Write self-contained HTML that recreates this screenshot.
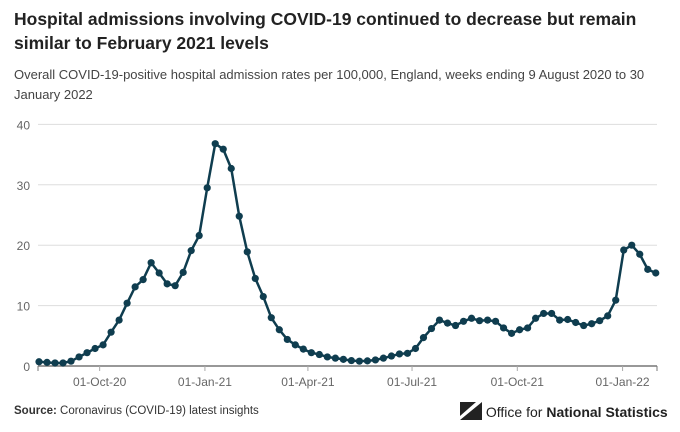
<!DOCTYPE html>
<html><head><meta charset="utf-8"><style>
body{margin:0;width:680px;height:432px;background:#fff;font-family:"Liberation Sans",sans-serif;overflow:hidden;position:relative}
.t{position:absolute;left:14px;top:7px;font-size:17.5px;font-weight:bold;color:#222;line-height:24px;width:660px}
.s{position:absolute;left:14px;top:65px;font-size:13px;color:#444;line-height:20px;width:660px}
.src{position:absolute;left:14px;top:405px;font-size:11.5px;color:#333}
.logo{position:absolute;left:460px;top:402px;font-size:14px;color:#222}
</style></head><body>
<div class="t">Hospital admissions involving COVID-19 continued to decrease but remain similar to February 2021 levels</div>
<div class="s">Overall COVID-19-positive hospital admission rates per 100,000, England, weeks ending 9 August 2020 to 30 January 2022</div>
<svg id="c" width="680" height="432" style="position:absolute;left:0;top:0"></svg>
<div class="src"><b>Source:</b> Coronavirus (COVID-19) latest insights</div>
<div class="logo"><svg width="22" height="18" style="vertical-align:-3px"><polygon points="0,18 22,0 22,18" fill="#222"/><polygon points="0,14 16,0 0,0" fill="#222"/></svg> Office for <b>National Statistics</b></div>
<script>
const values=[0.7,0.6,0.5,0.5,0.8,1.5,2.2,2.9,3.5,5.6,7.6,10.4,13.1,14.3,17.1,15.4,13.6,13.3,15.5,19.1,21.6,29.5,36.8,35.9,32.7,24.8,18.9,14.5,11.5,8.0,6.0,4.4,3.5,2.8,2.2,1.9,1.5,1.3,1.1,0.9,0.8,0.85,1.0,1.3,1.65,2.0,2.1,2.9,4.7,6.2,7.6,7.1,6.7,7.4,7.9,7.5,7.6,7.4,6.3,5.4,6.0,6.3,7.9,8.7,8.7,7.6,7.7,7.2,6.7,7.0,7.5,8.3,10.9,19.2,20.0,18.5,16.0,15.4];
const yTicks=[0,10,20,30,40];
const xTickLabels=["01-Oct-20","01-Jan-21","01-Apr-21","01-Jul-21","01-Oct-21","01-Jan-22"];
const xTickDates=["2020-10-01","2021-01-01","2021-04-01","2021-07-01","2021-10-01","2022-01-01"];
const startDate="2020-08-09";
const NS="http://www.w3.org/2000/svg",svg=document.getElementById('c');
const d0=Date.parse(startDate);
const x=i=>39+i*8.01;
const xd=s=>x((Date.parse(s)-d0)/86400000/7);
const y=v=>366-v*6.04;
function mk(t,a){const e=document.createElementNS(NS,t);for(const k in a)e.setAttribute(k,a[k]);svg.appendChild(e);return e;}
yTicks.forEach(v=>{
 if(v>0){const g=mk('line',{x1:38,x2:657,y1:y(v),y2:y(v),stroke:'#ddd','stroke-width':1});
 
 }
 const t=mk('text',{x:30,y:y(v)+5,'text-anchor':'end','font-size':12,fill:'#666','font-family':'Liberation Sans'});
 t.textContent=v;
 
 
});
const ax=mk('line',{x1:38,x2:657,y1:366,y2:366,stroke:'#777','stroke-width':1.5});


[38,657].forEach(px=>{const k=mk('line',{x1:px,x2:px,y1:366,y2:371,stroke:'#777'});});
xTickDates.forEach((d,i)=>{
 const px=xd(d);
 const k=mk('line',{x1:px,x2:px,y1:366,y2:371,stroke:'#aaa'});
 
 
 const t=mk('text',{x:px,y:386,'text-anchor':'middle','font-size':12,fill:'#666','font-family':'Liberation Sans'});
 t.textContent=xTickLabels[i];
 
 
});
const p=mk('polyline',{points:values.map((v,i)=>x(i)+','+y(v)).join(' '),fill:'none',stroke:'#0f3d4f','stroke-width':2.5,'stroke-linejoin':'round'});


values.forEach((v,i)=>{
 const c=mk('circle',{cx:x(i),cy:y(v),r:3.6,fill:'#0f3d4f'});
 
 
});
</script>
</body></html>
